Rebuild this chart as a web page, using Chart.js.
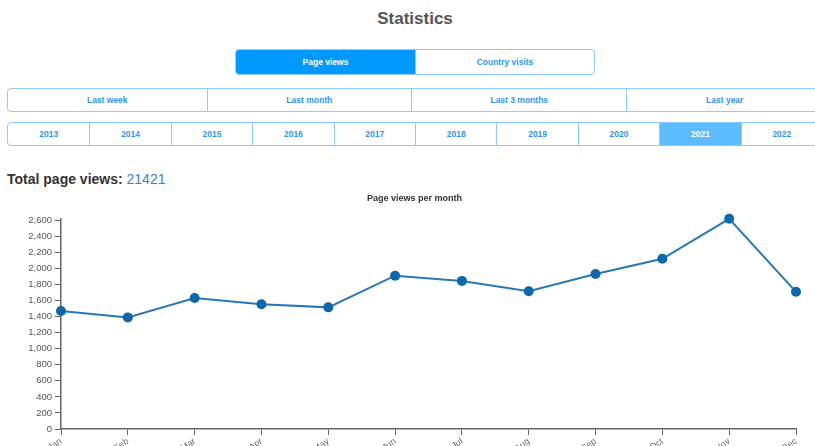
<!DOCTYPE html>
<html>
<head>
<meta charset="utf-8">
<title>Statistics</title>
<script src="https://cdn.jsdelivr.net/npm/chart.js"></script>
<style>
    body { margin: 0; width: 815px; height: 446px; overflow: hidden; background: #fff;
           font-family: "Liberation Sans", Arial, sans-serif; position: relative; }
    .title { position: absolute; top: 9px; left: 0; width: 830px; text-align: center;
             font-size: 17px; font-weight: bold; color: #555; }
    .btn-row { position: absolute; display: flex; border: 1px solid #8ccaff; border-radius: 4px;
               overflow: hidden; box-sizing: border-box; }
    .btn-row div { box-sizing: border-box; border-left: 1px solid #8ccaff; color: #2f96f5;
                   font-size: 8.5px; font-weight: bold; text-align: center; }
    .btn-row div:first-child { border-left: none; }
    .btn-row .active { background: #0099ff; color: #fff; }
    .btn-row .active-year { background: #5cbcff; color: #fff; }
    .total { position: absolute; top: 171px; left: 7px; font-size: 14px; font-weight: bold; color: #333; }
    .total span { font-weight: normal; color: #3a84c4; }
    #chart_wrap { position: absolute; left: 0; top: 190px; width: 815px; height: 256px; }
</style>
</head>
<body>

<div class="title">Statistics</div>

<div class="btn-row" style="left:235px; top:49px; width:360px; height:26px;">
    <div class="active" style="width:180px; line-height:24px;">Page views</div>
    <div style="width:180px; line-height:24px;">Country visits</div>
</div>

<div class="btn-row" id="range_row" style="left:7px; top:88px; width:816px; height:24px;"></div>
<div class="btn-row" id="year_row" style="left:7px; top:122px; width:816px; height:24px;"></div>

<div class="total">Total page views: <span id="total_views"></span></div>

<div id="chart_wrap"><canvas id="rmChart"></canvas></div>

<script>
// chart data
const months      = ["Jan", "Feb", "Mar", "Apr", "May", "Jun", "Jul", "Aug", "Sep", "Oct", "Nov", "Dec"];
const page_views  = [1471, 1391, 1632, 1556, 1516, 1911, 1846, 1716, 1931, 2121, 2620, 1710];
const y_ticks     = [0, 200, 400, 600, 800, 1000, 1200, 1400, 1600, 1800, 2000, 2200, 2400, 2600];

// navigation rows
const ranges      = ["Last week", "Last month", "Last 3 months", "Last year"];
const range_width = [199, 205, 216, 196];
const years       = ["2013", "2014", "2015", "2016", "2017", "2018", "2019", "2020", "2021", "2022"];
const active_year = "2021";

let html = "";
ranges.forEach((r, i) => {
    html += `<div style="width:${range_width[i]}px; line-height:22px;">${r}</div>`;
});
document.getElementById("range_row").innerHTML = html;

html = "";
years.forEach((y) => {
    const cls = (y === active_year) ? " class='active-year'" : "";
    html += `<div${cls} style="width:81.6px; line-height:22px;">${y}</div>`;
});
document.getElementById("year_row").innerHTML = html;

document.getElementById("total_views").textContent = "21421";

const line_color  = "#2878b8";
const point_color = "#0d67ab";
const axis_color  = "#666";

new Chart(document.getElementById("rmChart"), {
    type: "line",
    data: {
        labels: months,
        datasets: [{
            label: "Page views",
            data: page_views,
            borderColor: line_color,
            backgroundColor: point_color,
            borderWidth: 2,
            pointRadius: 5,
            pointBorderWidth: 0,
            pointBackgroundColor: point_color,
            tension: 0,
            clip: false
        }]
    },
    options: {
        responsive: true,
        maintainAspectRatio: false,
        animation: false,
        layout: { padding: { left: 14, right: 0, top: 0, bottom: 0 } },
        plugins: {
            legend: { display: false },
            tooltip: { enabled: false },
            title: {
                display: true,
                text: "Page views per month",
                color: "#333",
                font: { family: "Liberation Sans, Arial", size: 9, weight: "bold" },
                padding: { top: 3, bottom: 15 }
            }
        },
        scales: {
            x: {
                offset: false,
                grid: { drawOnChartArea: false, drawTicks: true, tickLength: 6, color: axis_color },
                border: { color: axis_color, width: 1.5 },
                ticks: {
                    autoSkip: false, minRotation: 35, maxRotation: 35, padding: 1,
                    color: "#666", font: { family: "Liberation Sans, Arial", size: 9 }
                },
                afterFit: (scale) => { scale.height = 17; scale.paddingRight = 19; scale.paddingLeft = 0; }
            },
            y: {
                min: 0,
                max: Math.max(...page_views),
                grid: { drawOnChartArea: false, drawTicks: true, tickLength: 6, color: axis_color },
                border: { color: axis_color, width: 1.5 },
                ticks: { padding: 3, color: "#555", font: { family: "Liberation Sans, Arial", size: 9.5 } },
                afterBuildTicks: (scale) => { scale.ticks = y_ticks.map((v) => ({ value: v })); },
                afterFit: (scale) => { scale.width = 47; }
            }
        }
    }
});
</script>
</body>
</html>
